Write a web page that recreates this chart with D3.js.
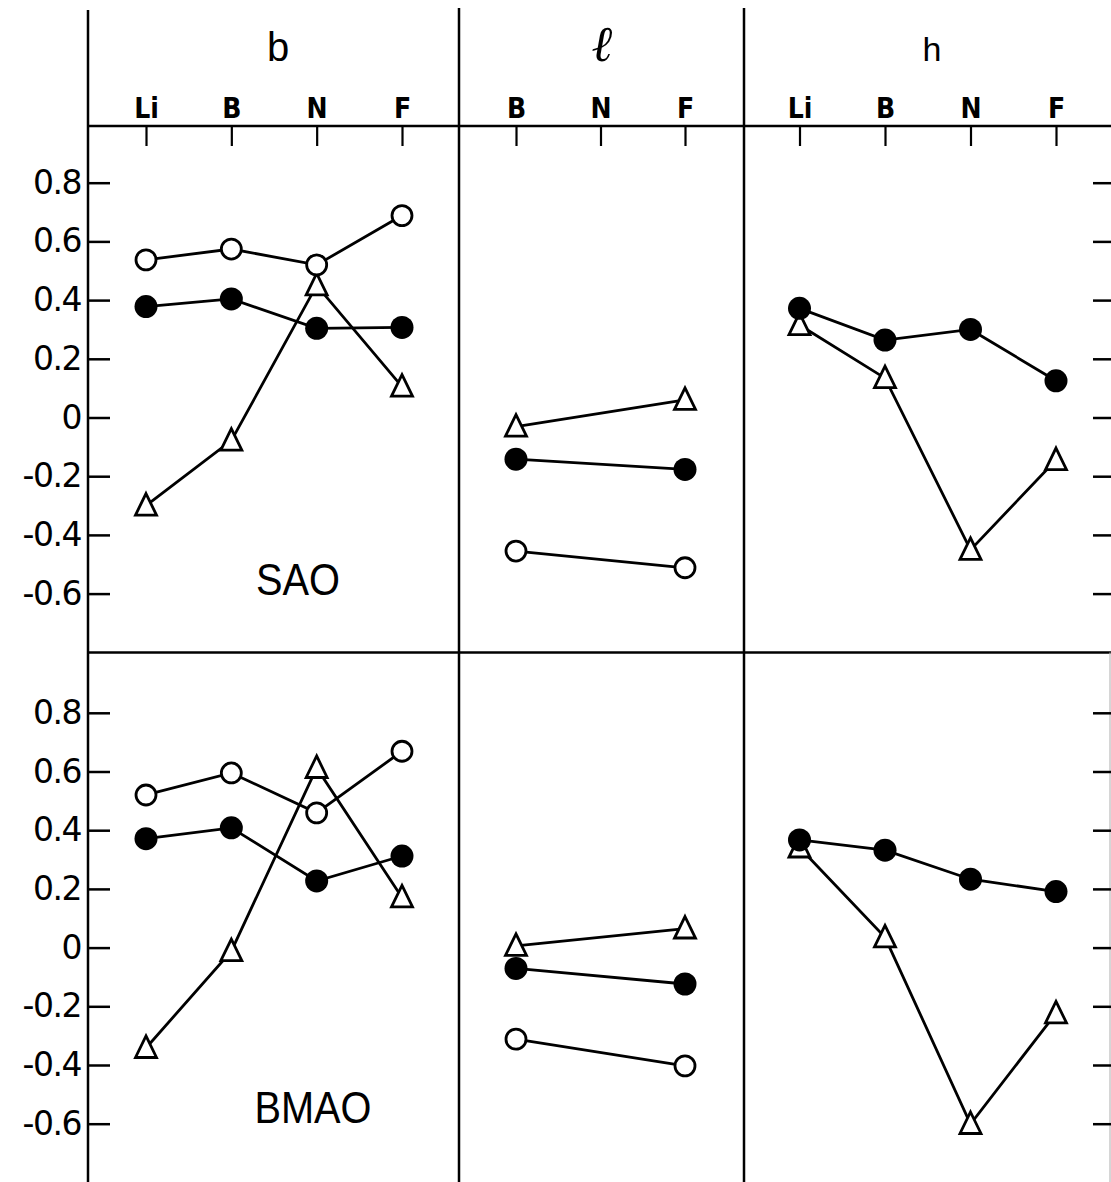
<!DOCTYPE html>
<meta charset="utf-8">
<head>
  <script src="https://d3js.org/d3.v7.min.js"></script>
  <style>
    body { margin: 0; background: #fff; }
    svg { display: block; }
    text { font-family: "Liberation Sans", Arial, sans-serif; fill: #000; }
    .cat text { font-family: "DejaVu Sans Condensed", "DejaVu Sans", sans-serif; font-weight: bold; font-size: 28px; }
    .yax text { font-family: "DejaVu Sans", sans-serif; font-size: 33px; letter-spacing: -1.5px; }
  </style>
</head>
<body>
<svg id="chart" width="1111" height="1182"></svg>
<script>
// categories
var catsB = ["Li", "B", "N", "F"];
var catsL = ["B", "N", "F"];
var catsH = ["Li", "B", "N", "F"];
var catsLData = ["B", "F"];          // l panel only has values at B and F
var yTicks = [0.8, 0.6, 0.4, 0.2, 0, -0.2, -0.4, -0.6];

// SAO (top row)
var saoOpenB   = [0.537, 0.574, 0.520, 0.688];
var saoFilledB = [0.378, 0.404, 0.304, 0.307];
var saoTriB    = [-0.300, -0.079, 0.450, 0.105];
var saoOpenL   = [-0.455, -0.512];
var saoFilledL = [-0.142, -0.177];
var saoTriL    = [-0.031, 0.060];
var saoFilledH = [0.372, 0.264, 0.300, 0.125];
var saoTriH    = [0.315, 0.134, -0.451, -0.145];

// BMAO (bottom row)
var bmaoOpenB   = [0.520, 0.595, 0.459, 0.669];
var bmaoFilledB = [0.371, 0.408, 0.227, 0.312];
var bmaoTriB    = [-0.342, -0.012, 0.612, 0.171];
var bmaoOpenL   = [-0.312, -0.403];
var bmaoFilledL = [-0.071, -0.124];
var bmaoTriL    = [0.006, 0.065];
var bmaoFilledH = [0.367, 0.332, 0.233, 0.191];
var bmaoTriH    = [0.341, 0.035, -0.601, -0.224];

var svg = d3.select("#chart"),
    width = +svg.attr("width"),
    height = +svg.attr("height");

var axisX = 88, div1 = 459, div2 = 744, topLine = 126, midLine = 652.5;

var xB = d3.scalePoint().domain(catsB).range([146, 402]);
var xL = d3.scalePoint().domain(catsL).range([516, 685]);
var xH = d3.scalePoint().domain(catsH).range([799.5, 1056]);

var yTop = d3.scaleLinear().domain([-0.6, 0.8]).range([593.6, 182.7]);
var yBot = d3.scaleLinear().domain([-0.6, 0.8]).range([1123.7, 712.8]);

var rows = [
  { name: "SAO", y: yTop, labelX: 298, labelY: 595, labelW: 84, panels: [
      { x: xB, cats: catsB, open: saoOpenB, filled: saoFilledB, tri: saoTriB },
      { x: xL, cats: catsLData, open: saoOpenL, filled: saoFilledL, tri: saoTriL },
      { x: xH, cats: catsH, open: null, filled: saoFilledH, tri: saoTriH }
  ]},
  { name: "BMAO", y: yBot, labelX: 313, labelY: 1123, labelW: 117, panels: [
      { x: xB, cats: catsB, open: bmaoOpenB, filled: bmaoFilledB, tri: bmaoTriB },
      { x: xL, cats: catsLData, open: bmaoOpenL, filled: bmaoFilledL, tri: bmaoTriL },
      { x: xH, cats: catsH, open: null, filled: bmaoFilledH, tri: bmaoTriH }
  ]}
];

// frame
var frame = svg.append("g").attr("stroke", "#000").attr("stroke-width", 2.5);
frame.append("line").attr("x1", axisX).attr("x2", axisX).attr("y1", 10).attr("y2", height);
frame.append("line").attr("x1", div1).attr("x2", div1).attr("y1", 8).attr("y2", height);
frame.append("line").attr("x1", div2).attr("x2", div2).attr("y1", 8).attr("y2", height);
frame.append("line").attr("x1", axisX).attr("x2", width).attr("y1", topLine).attr("y2", topLine);
frame.append("line").attr("x1", axisX).attr("x2", width).attr("y1", midLine).attr("y2", midLine);
svg.append("line").attr("x1", 1110).attr("x2", 1110).attr("y1", midLine).attr("y2", height)
  .attr("stroke", "#bbb").attr("stroke-width", 1.2);

// panel titles
svg.append("text").attr("x", 278).attr("y", 61).attr("text-anchor", "middle")
  .style("font-size", "40px").text("b");
svg.append("text").attr("x", 603).attr("y", 61).attr("text-anchor", "middle")
  .style("font-family", "'DejaVu Serif', serif").style("font-style", "italic").style("font-weight", "bold")
  .style("font-size", "50px").text("ℓ");
svg.append("text").attr("x", 932).attr("y", 61).attr("text-anchor", "middle")
  .style("font-size", "34px").text("h");

// category axes along the top
[xB, xL, xH].forEach(function(x) {
  var g = svg.append("g").attr("class", "cat")
    .attr("transform", "translate(0," + topLine + ")")
    .call(d3.axisTop(x).tickSizeInner(-20).tickSizeOuter(0).tickPadding(8));
  g.select(".domain").remove();
  g.selectAll(".tick line").attr("stroke", "#000").attr("stroke-width", 2.2);
});

var fmt = function(d) { return d === 0 ? "0" : d.toFixed(1); };
var triPath = "M0,-12L10.5,9.5L-10.5,9.5Z";

rows.forEach(function(row) {
  var y = row.y;

  var ly = svg.append("g").attr("class", "yax")
    .attr("transform", "translate(" + axisX + ",0)")
    .call(d3.axisLeft(y).tickValues(yTicks).tickFormat(fmt).tickSizeInner(-22).tickSizeOuter(0).tickPadding(7));
  ly.select(".domain").remove();
  ly.selectAll(".tick line").attr("stroke", "#000").attr("stroke-width", 2.5);

  var ry = svg.append("g")
    .attr("transform", "translate(" + width + ",0)")
    .call(d3.axisRight(y).tickValues(yTicks).tickFormat("").tickSizeInner(-18).tickSizeOuter(0));
  ry.select(".domain").remove();
  ry.selectAll(".tick line").attr("stroke", "#000").attr("stroke-width", 2.5);

  svg.append("text").attr("x", row.labelX).attr("y", row.labelY).attr("text-anchor", "middle")
    .attr("textLength", row.labelW).attr("lengthAdjust", "spacingAndGlyphs")
    .style("font-size", "44px").text(row.name);

  row.panels.forEach(function(p) {
    var line = d3.line()
      .x(function(d, i) { return p.x(p.cats[i]); })
      .y(function(d) { return y(d); });

    [p.tri, p.filled, p.open].forEach(function(s) {
      if (!s) return;
      svg.append("path").datum(s).attr("d", line)
        .attr("fill", "none").attr("stroke", "#000").attr("stroke-width", 2.8);
    });

    svg.append("g").selectAll("path").data(p.tri).enter().append("path")
      .attr("transform", function(d, i) { return "translate(" + p.x(p.cats[i]) + "," + y(d) + ")"; })
      .attr("d", triPath)
      .attr("fill", "#fff").attr("stroke", "#000").attr("stroke-width", 2.8)
      .attr("stroke-linejoin", "miter");

    svg.append("g").selectAll("circle").data(p.filled).enter().append("circle")
      .attr("cx", function(d, i) { return p.x(p.cats[i]); })
      .attr("cy", function(d) { return y(d); })
      .attr("r", 11.5).attr("fill", "#000");

    if (p.open) {
      svg.append("g").selectAll("circle").data(p.open).enter().append("circle")
        .attr("cx", function(d, i) { return p.x(p.cats[i]); })
        .attr("cy", function(d) { return y(d); })
        .attr("r", 10).attr("fill", "#fff").attr("stroke", "#000").attr("stroke-width", 2.8);
    }
  });
});
</script>
</body>
</html>
